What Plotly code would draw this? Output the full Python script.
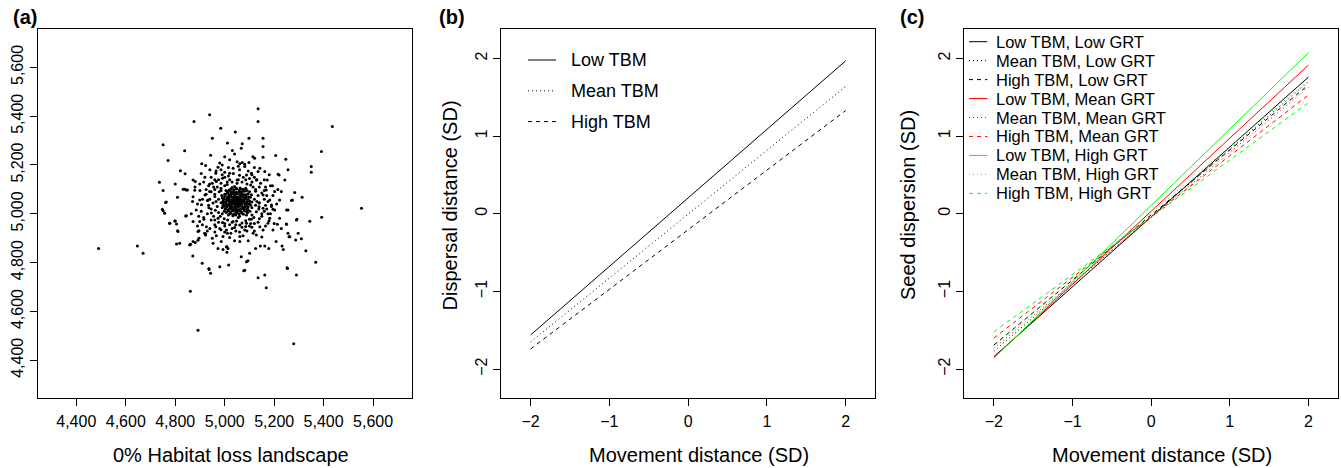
import plotly.graph_objects as go

# ---------------- Data ----------------
# Panel (a): individual seed positions (x, y)
outer_points = [
    (4490, 4858), (4647, 4868), (4670, 4838), (4892, 4523), (5279, 4468), (5553, 5023),
    (5435, 5358), (5391, 5255), (5350, 5194), (5350, 5170), (5392, 4986), (5344, 4969),
    (5368, 4801), (5328, 4849), (5290, 4749), (5252, 4779), (5310, 4898), (4861, 4683),
    (5168, 4697), (5135, 5430), (5135, 5378), (4939, 5406), (4876, 5378), (4984, 5351),
    (4751, 5283), (4736, 5129), (4751, 5095),
]
ring_points = [
    (5043, 5335), (5098, 5310), (5155, 5310), (4950, 5310), (5155, 5276), (5011, 5290),
    (5071, 5287), (5067, 5269), (4838, 5258), (5031, 5259), (5040, 5245), (4943, 5240),
    (5114, 5234), (5121, 5228), (5155, 5232), (5206, 5239), (5247, 5224), (4771, 5218),
    (5000, 5234), (5050, 5213), (5020, 5221), (4907, 5205), (4923, 5198), (4980, 5208),
    (5020, 5166), (5034, 5187), (5061, 5205), (5081, 5194), (5098, 5210), (5108, 5166),
    (5142, 5187), (5162, 5173), (5135, 5173), (5216, 5162), (5256, 5180), (4821, 5176),
    (4840, 5164), (4964, 5166), (4973, 5191), (4966, 5132), (4991, 5146), (5050, 5139),
    (5088, 5159), (5128, 5139), (5172, 5139), (5193, 5115), (5202, 5091), (5243, 5139),
    (4800, 5122), (4881, 5132), (4899, 5122), (4939, 5122), (4872, 5139), (4985, 5180),
    (5220, 5159), (5071, 5210), (5081, 5203), (4809, 5068), (4832, 5101), (4845, 5098),
    (4879, 5096), (4764, 5048), (4872, 5070), (4899, 5057), (4906, 5037), (4920, 5077),
    (4933, 5057), (4939, 5091), (4953, 5044), (4960, 5071), (4936, 5025), (4946, 5003),
    (4885, 5016), (4845, 4992), (4838, 5101), (4849, 5098), (5155, 5077), (5168, 5098),
    (5182, 5057), (5189, 5030), (5202, 5016), (5155, 5023), (5139, 5044), (5222, 5057),
    (5229, 5091), (5283, 5087), (5313, 5068), (5274, 5057), (5256, 5016), (5139, 5029),
    (5189, 5036), (5195, 5019), (5250, 5016), (5270, 5054), (4751, 5013), (4778, 4961),
    (4800, 4971), (4810, 4931), (4872, 4968), (4896, 4931), (4919, 4920), (4926, 4947),
    (4960, 4975), (4964, 4947), (4973, 4982), (4991, 4964), (5007, 4934), (5011, 4920),
    (5020, 4903), (5034, 4968), (5040, 4944), (5061, 4954), (5081, 4934), (5088, 4961),
    (5108, 4978), (5115, 4920), (5128, 4913), (5142, 4947), (5155, 4934), (5175, 4961),
    (5182, 4982), (5195, 4934), (5229, 4940), (5249, 4958), (5290, 4975), (5260, 4906),
    (5061, 4907), (5074, 4910), (4993, 4907), (4761, 5046), (4748, 5019), (4757, 5002),
    (4842, 4991), (4798, 4971), (4777, 4961), (4805, 4958), (4899, 4968), (4916, 4978),
    (4811, 4927), (4892, 4927), (4923, 4917), (4966, 4910), (5292, 4978), (5250, 4957),
    (5213, 4957), (5222, 4982), (5179, 4972), (5256, 4920), (5263, 4906), (5297, 4920),
    (4805, 4876), (4862, 4875), (4892, 4892), (4923, 4913), (4871, 4827), (4909, 4797),
    (4936, 4776), (4943, 4756), (4980, 4783), (5016, 4790), (5013, 4858), (5009, 4865),
    (5061, 4886), (5125, 4858), (5144, 4868), (5162, 4868), (5178, 4858), (5208, 4886),
    (5232, 4868), (5237, 4854), (5287, 4893), (5088, 4804), (5081, 4769), (5067, 4824),
    (5162, 4749), (5135, 4738), (4973, 4858), (4953, 4879), (5101, 4838), (4872, 4886),
    (4881, 4882), (4896, 4900), (4818, 4879), (4858, 4872), (4986, 4886), (4993, 4854),
    (5007, 4865), (5009, 4842), (4937, 4772), (5094, 4808), (5077, 4767), (5254, 4776),
]
mid_points = [
    (4960, 5100), (4950, 5125), (4975, 5140), (5000, 5150), (5020, 5140), (5085, 5140),
    (5110, 5130), (5140, 5110), (5150, 5085), (5160, 5060), (5150, 5000), (5140, 4980),
    (5120, 4960), (5100, 4950), (5070, 4945), (5030, 4940), (5000, 4950), (4975, 4965),
    (4955, 4990), (4945, 5020), (4940, 5060), (4955, 5110), (5130, 5140), (5165, 5110),
    (5170, 5020), (5045, 4930), (4985, 4935), (4930, 5000), (4925, 5100), (5000, 5170),
    (5095, 5175), (5175, 5000), (4985, 5125), (4970, 5110), (4960, 5140), (4990, 5160),
    (5015, 5155), (5035, 5165), (5060, 5158), (5075, 5150), (5100, 5145), (5120, 5150),
    (5145, 5125), (5160, 5095), (5170, 5075), (5175, 5050), (5165, 5035), (5160, 5010),
    (5150, 4990), (5135, 4965), (5110, 4945), (5090, 4930), (5060, 4925), (5025, 4920),
    (5000, 4925), (4980, 4940), (4960, 4955), (4945, 4975), (4935, 5035), (4930, 5055),
    (4925, 5080), (4945, 5090), (4935, 5115), (4915, 5130), (4910, 5060), (4905, 5010),
    (4915, 4985), (4940, 4940), (4960, 4925), (5020, 4955), (5085, 4948), (5120, 4930),
    (5165, 4950), (5185, 5000), (5195, 5075), (5185, 5115), (5160, 5140), (5110, 5160),
    (5060, 5180), (5015, 5190), (4965, 5175), (4945, 5150), (4920, 5150), (4900, 5095),
    (4890, 5040), (4895, 4990), (4910, 4955), (4950, 4900), (5040, 4890), (5095, 4890),
    (5150, 4905), (5200, 4960), (5210, 5040), (5215, 5100), (5180, 5160), (5120, 5190),
    (5055, 5195), (4990, 5200), (4940, 5180), (4905, 5165), (4880, 5110), (4870, 5050),
    (4865, 5000), (4890, 4950), (4930, 4930), (5000, 4960), (5110, 4995), (5125, 5100),
    (4985, 5095), (4990, 5000), (5105, 4960), (5010, 5130),
]
core_points = [
    (5047, 5050), (5040, 5058), (5054, 5044), (5043, 5041), (5052, 5061), (5060, 5052),
    (5035, 5049), (5049, 5035), (5058, 5039), (5038, 5066), (5064, 5063), (5030, 5040),
    (5046, 5068), (5066, 5045), (5028, 5057), (5056, 5030), (5041, 5029), (5070, 5055),
    (5020, 5050), (5075, 5050), (5047, 5085), (5047, 5015), (5025, 5075), (5072, 5078),
    (5022, 5025), (5074, 5022), (5010, 5062), (5085, 5040), (5036, 5087), (5060, 5088),
    (5032, 5012), (5063, 5010), (5012, 5035), (5086, 5066), (5018, 5070), (5080, 5028),
    (4995, 5050), (5100, 5052), (5047, 5105), (5045, 4995), (5000, 5080), (5095, 5082),
    (5002, 5020), (5094, 5018), (5018, 5098), (5078, 5100), (5020, 5000), (5076, 4998),
    (4990, 5065), (5105, 5035), (4993, 5035), (5104, 5068), (5030, 5108), (5062, 5106),
    (5033, 4992), (5060, 4990), (5005, 5095), (5090, 5095), (5006, 5005), (5092, 5004),
    (4985, 5045), (5110, 5048), (5040, 5112), (5055, 4985), (5012, 5088), (5100, 5090),
    (4998, 5010), (5102, 5010), (5025, 5102), (5085, 5105), (5015, 4995), (5088, 4995),
    (4988, 5075), (5108, 5078), (4990, 5025), (5110, 5025), (4975, 5060), (5120, 5060),
    (4970, 5030), (5125, 5035), (5050, 5125), (5048, 4970), (4985, 5105), (5115, 5110),
    (4982, 4990), (5118, 4985), (5010, 5120), (5090, 5122), (5012, 4975), (5085, 4972),
    (4965, 5050), (5130, 5050), (5030, 5130), (5070, 5130), (5030, 4965), (5070, 4962),
    (4978, 5090), (5125, 5092), (4975, 5005), (5128, 5008), (5000, 5115), (5105, 5118),
    (4998, 4980), (5100, 4978), (4960, 5080), (5135, 5075), (4962, 5015), (5138, 5020),
    (5055, 5140), (5045, 4955), (5140, 5045),
]
dense_points = [
    (5025, 5002), (5037, 4998), (5048, 5003), (5058, 4999), (5070, 5002),
    (5012, 5011), (5022, 5008), (5033, 5012), (5044, 5009), (5055, 5011), (5066, 5008), (5078, 5012), (5088, 5009),
    (5003, 5021), (5015, 5018), (5026, 5022), (5036, 5019), (5047, 5021), (5058, 5018), (5068, 5022), (5079, 5019), (5090, 5021),
    (4998, 5031), (5009, 5029), (5020, 5032), (5030, 5028), (5041, 5031), (5052, 5029), (5062, 5032), (5073, 5028), (5084, 5031), (5095, 5029),
    (4995, 5041), (5006, 5039), (5017, 5042), (5027, 5038), (5038, 5041), (5049, 5039), (5060, 5042), (5070, 5038), (5081, 5041), (5092, 5039), (5100, 5042),
    (4993, 5051), (5004, 5049), (5014, 5052), (5025, 5048), (5036, 5051), (5046, 5049), (5057, 5052), (5068, 5048), (5079, 5051), (5089, 5049), (5100, 5052),
    (4996, 5061), (5007, 5059), (5018, 5062), (5029, 5058), (5040, 5061), (5051, 5059), (5061, 5062), (5072, 5058), (5083, 5061), (5094, 5059),
    (5000, 5071), (5011, 5069), (5022, 5072), (5032, 5068), (5043, 5071), (5054, 5069), (5065, 5072), (5076, 5068), (5087, 5071), (5097, 5069),
    (5006, 5081), (5017, 5079), (5028, 5082), (5039, 5078), (5050, 5081), (5061, 5079), (5071, 5082), (5082, 5078), (5092, 5081),
    (5013, 5091), (5025, 5089), (5036, 5092), (5047, 5088), (5058, 5091), (5069, 5089), (5080, 5092),
    (5025, 5101), (5037, 5099), (5048, 5102), (5060, 5098), (5071, 5101),
]
a_ticks = [4400, 4600, 4800, 5000, 5200, 5400, 5600]
a_tick_labels = ["4,400", "4,600", "4,800", "5,000", "5,200", "5,400", "5,600"]

# Panels (b) and (c): straight model lines evaluated at movement distance -2 and 2
move_x = [-2, 2]
b_names = ["Low TBM", "Mean TBM", "High TBM"]
b_low = [-1.56, 1.97]
b_mean = [-1.65, 1.64]
b_high = [-1.74, 1.33]

c_names = ["Low TBM, Low GRT", "Mean TBM, Low GRT", "High TBM, Low GRT",
           "Low TBM, Mean GRT", "Mean TBM, Mean GRT", "High TBM, Mean GRT",
           "Low TBM, High GRT", "Mean TBM, High GRT", "High TBM, High GRT"]
c_low_low = [-1.84, 1.76]
c_mean_low = [-1.77, 1.70]
c_high_low = [-1.69, 1.66]
c_low_mean = [-1.85, 1.915]
c_mean_mean = [-1.73, 1.63]
c_high_mean = [-1.60, 1.53]
c_low_high = [-1.86, 2.075]
c_mean_high = [-1.70, 1.72]
c_high_high = [-1.52, 1.43]
sd_ticks = [-2, -1, 0, 1, 2]

# ---------------- Styling ----------------
W, H = 1341, 468
FONT = "Liberation Sans, Arial, Helvetica, sans-serif"
DOT = "1px,3px"
DASH = "4px,4px"
styles_b = [("black", "solid"), ("black", DOT), ("black", DASH)]
colors_c = ["black", "black", "black", "#FF0000", "#FF0000", "#FF0000", "#00FF00", "#00FF00", "#00FF00"]
dashes_c = ["solid", DOT, DASH] * 3


def px2x(p):
    return p / W


def px2y(p):
    return 1 - p / H


fig = go.Figure()

# Panel (a)
allpts = outer_points + ring_points + mid_points + core_points + dense_points
fig.add_trace(go.Scatter(
    x=[p[0] for p in allpts], y=[p[1] for p in allpts], mode="markers",
    marker=dict(color="black", size=3, line=dict(width=0)),
    xaxis="x", yaxis="y", showlegend=False, hoverinfo="skip"))

# Panel (b)
for ys, name, (col, dash) in zip([b_low, b_mean, b_high], b_names, styles_b):
    fig.add_trace(go.Scatter(x=move_x, y=ys, mode="lines", name=name,
                             line=dict(color=col, width=1, dash=dash),
                             xaxis="x2", yaxis="y2", showlegend=False))

# Panel (c)
c_series = [c_low_low, c_mean_low, c_high_low, c_low_mean, c_mean_mean, c_high_mean,
            c_low_high, c_mean_high, c_high_high]
for ys, name, col, dash in zip(c_series, c_names, colors_c, dashes_c):
    fig.add_trace(go.Scatter(x=move_x, y=ys, mode="lines", name=name,
                             line=dict(color=col, width=1, dash=dash),
                             xaxis="x3", yaxis="y3", showlegend=False))

ydom = [px2y(398.3), px2y(29.3)]
axis_common = dict(showline=True, mirror=True, linecolor="black", linewidth=1,
                   ticks="outside", ticklen=7, tickwidth=1, tickcolor="black",
                   showgrid=False, zeroline=False,
                   tickfont=dict(family=FONT, size=16, color="black"))
xax = dict(axis_common, ticklabelstandoff=1)
yax = dict(axis_common, tickangle=-90, ticklabelstandoff=0)

layout = dict(
    width=W, height=H, margin=dict(l=0, r=0, t=0, b=0),
    paper_bgcolor="white", plot_bgcolor="white",
    font=dict(family=FONT, color="black"),
    xaxis=dict(domain=[px2x(37.7), px2x(411.7)], range=[4244, 5756],
               tickvals=a_ticks, ticktext=a_tick_labels, anchor="y", **xax),
    yaxis=dict(domain=ydom, range=[4244, 5756], tickvals=a_ticks, ticktext=a_tick_labels,
               anchor="x", **yax),
    xaxis2=dict(domain=[px2x(501), px2x(875.3)], range=[-2.376, 2.376],
                tickvals=sd_ticks, anchor="y2", **xax),
    yaxis2=dict(domain=ydom, range=[-2.376, 2.376], tickvals=sd_ticks,
                anchor="x2", **yax),
    xaxis3=dict(domain=[px2x(964.3), px2x(1338)], range=[-2.376, 2.376],
                tickvals=sd_ticks, anchor="y3", **xax),
    yaxis3=dict(domain=ydom, range=[-2.376, 2.376], tickvals=sd_ticks,
                anchor="x3", **yax),
)
fig.update_layout(**layout)

annotations = []
shapes = []
# Panel labels
for lab, cx in [("(a)", 25), ("(b)", 452), ("(c)", 912)]:
    annotations.append(dict(text="<b>%s</b>" % lab, x=px2x(cx), y=px2y(17), xref="paper", yref="paper",
                            xanchor="center", yanchor="middle", showarrow=False,
                            font=dict(family=FONT, size=20, color="black")))
# Axis titles
for txt, cx in [("0% Habitat loss landscape", 231), ("Movement distance (SD)", 699),
                ("Movement distance (SD)", 1162)]:
    annotations.append(dict(text=txt, x=px2x(cx), y=px2y(455), xref="paper", yref="paper",
                            xanchor="center", yanchor="middle", showarrow=False,
                            font=dict(family=FONT, size=20, color="black")))
for txt, cx in [("Dispersal distance (SD)", 449.5), ("Seed dispersion (SD)", 908)]:
    annotations.append(dict(text=txt, x=px2x(cx), y=px2y(205), xref="paper", yref="paper",
                            xanchor="center", yanchor="middle", showarrow=False, textangle=-90,
                            font=dict(family=FONT, size=20, color="black")))

# Legend (b)
for i, (name, (col, dash)) in enumerate(zip(b_names, styles_b)):
    yy = 60 + 30.8 * i
    shapes.append(dict(type="line", xref="paper", yref="paper", x0=px2x(528), x1=px2x(556),
                       y0=px2y(yy), y1=px2y(yy), line=dict(color=col, width=1, dash=dash)))
    annotations.append(dict(text=name, x=px2x(569), y=px2y(yy), xref="paper", yref="paper",
                            xanchor="left", yanchor="middle", showarrow=False,
                            font=dict(family=FONT, size=18, color="black")))
# Legend (c)
for i, (name, col, dash) in enumerate(zip(c_names, colors_c, dashes_c)):
    yy = 41.7 + 18.95 * i
    shapes.append(dict(type="line", xref="paper", yref="paper", x0=px2x(969), x1=px2x(987.3),
                       y0=px2y(yy), y1=px2y(yy), line=dict(color=col, width=1, dash=dash)))
    annotations.append(dict(text=name, x=px2x(993.5), y=px2y(yy), xref="paper", yref="paper",
                            xanchor="left", yanchor="middle", showarrow=False,
                            font=dict(family=FONT, size=16.5, color="black")))

fig.update_layout(annotations=annotations, shapes=shapes)
fig.write_html("out.html")
